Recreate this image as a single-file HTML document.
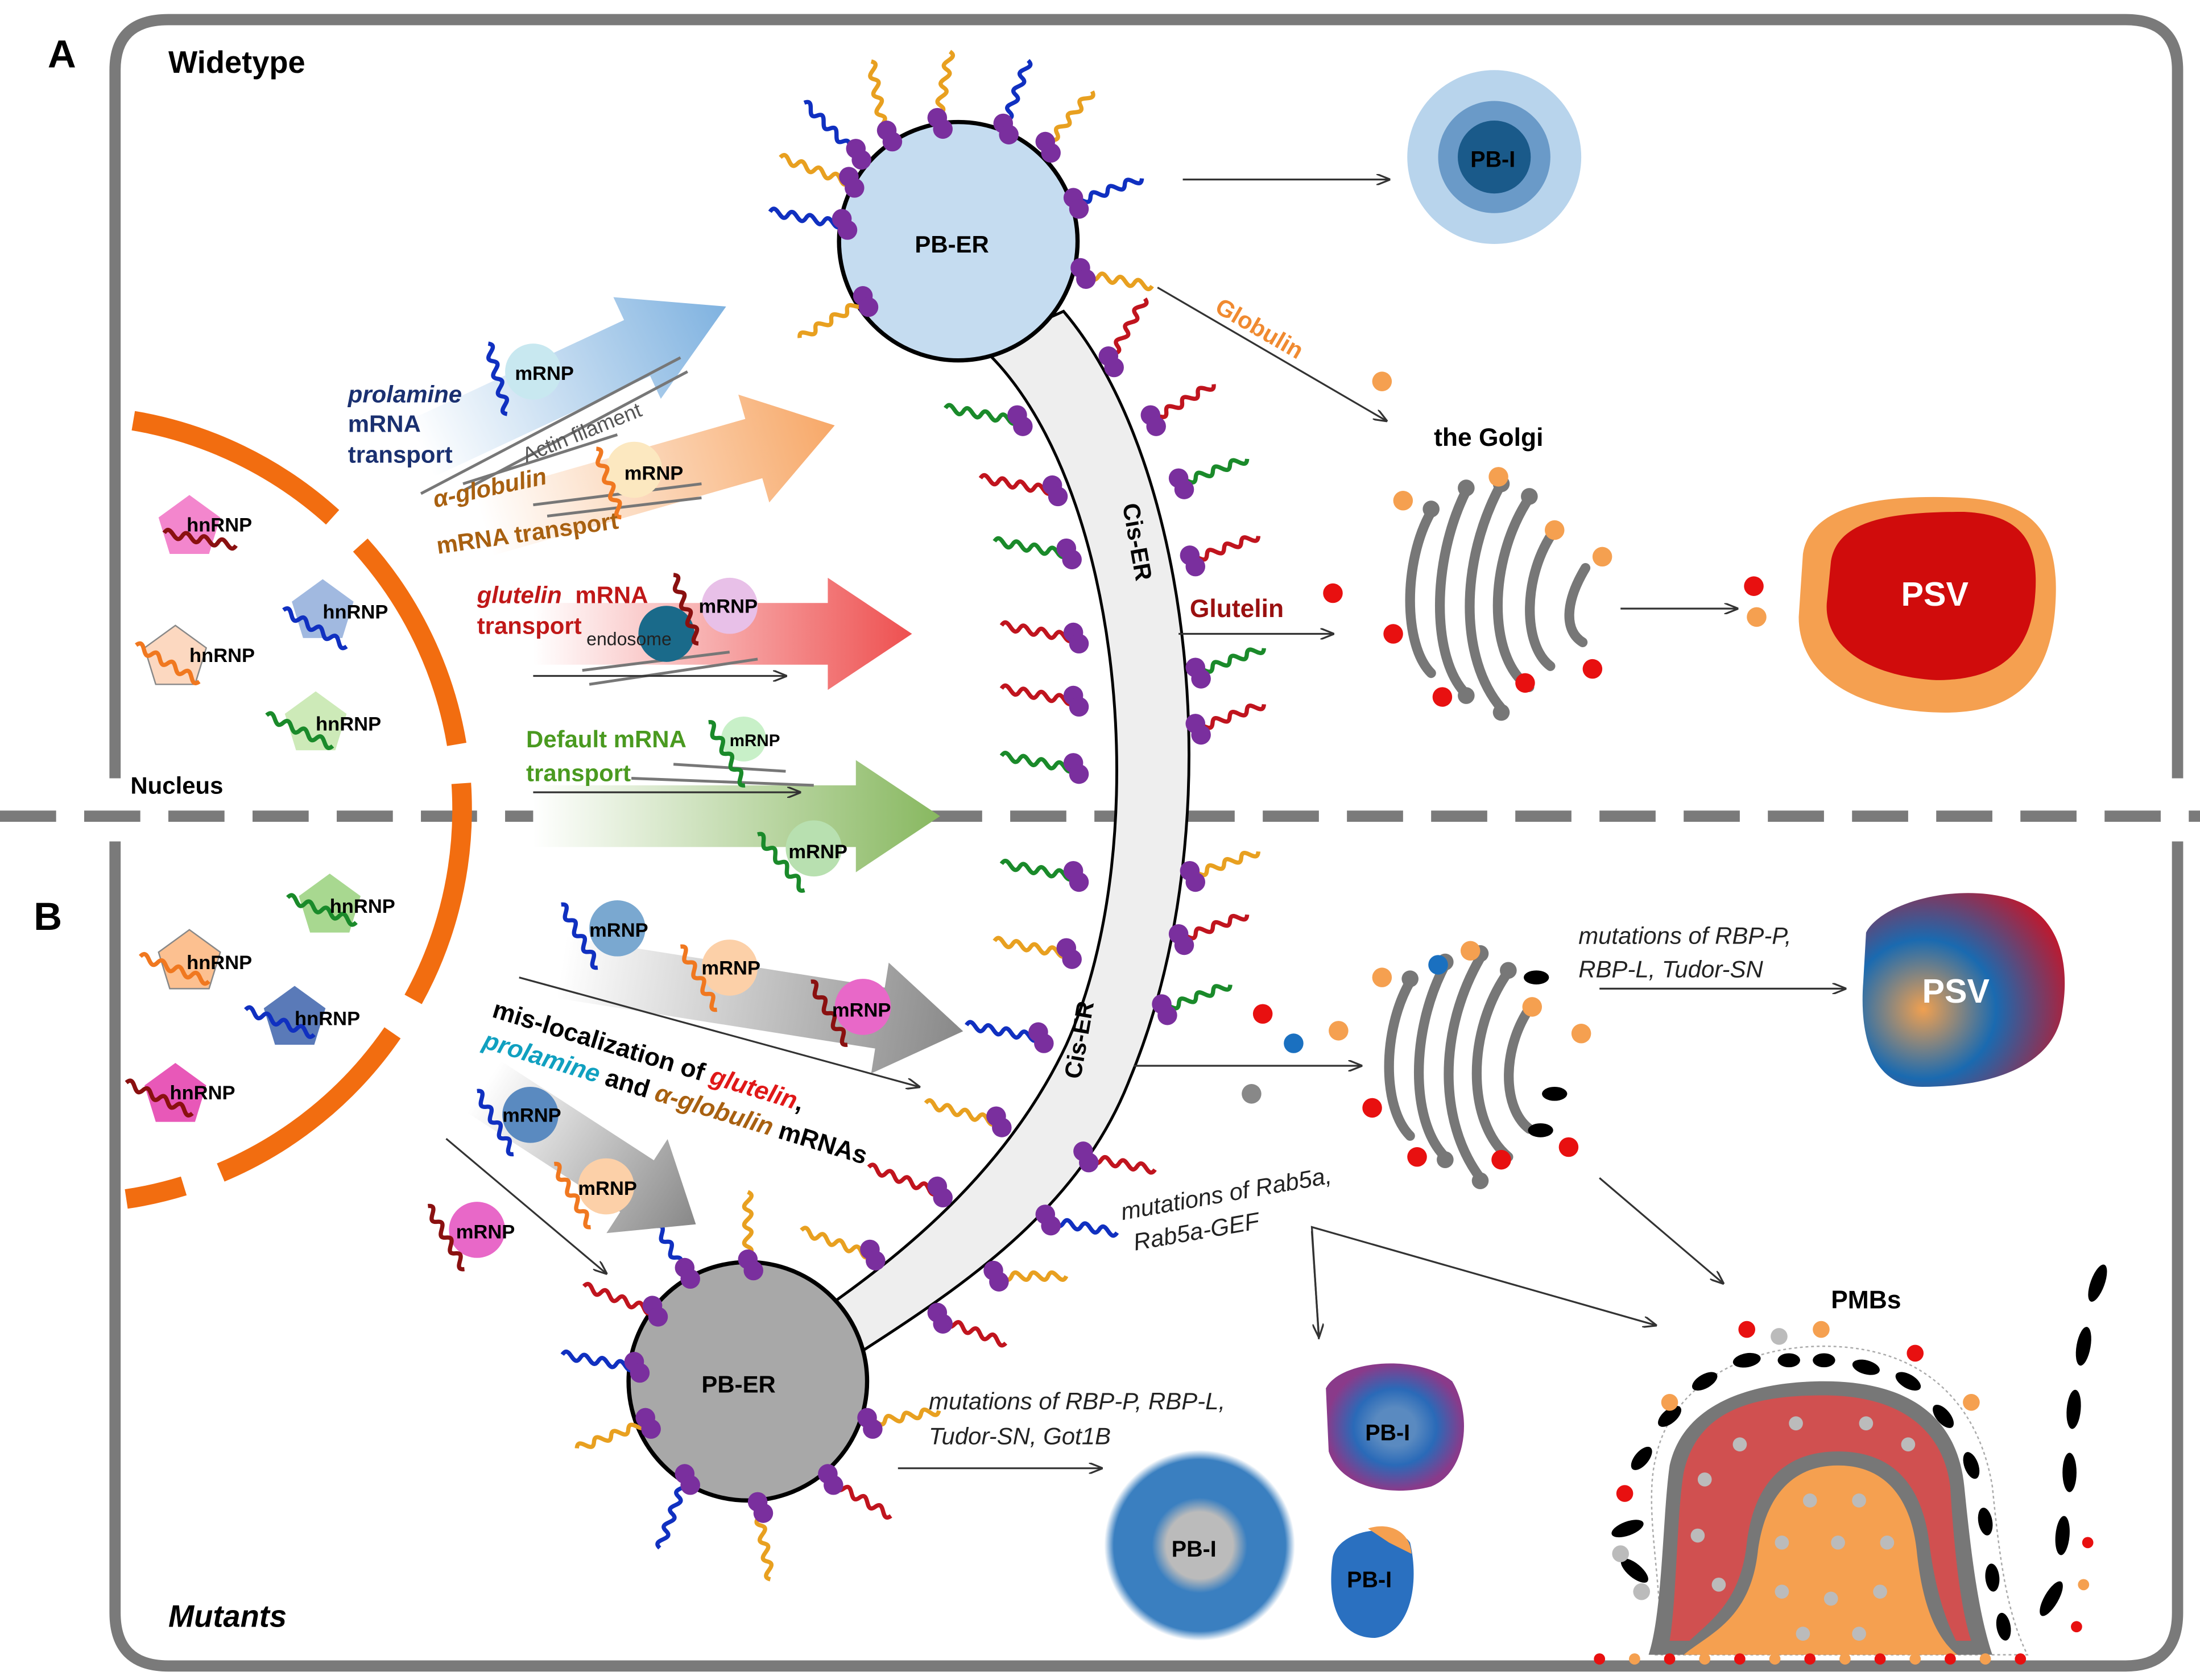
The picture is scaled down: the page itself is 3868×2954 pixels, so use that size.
<!DOCTYPE html>
<html><head><meta charset="utf-8"><style>
html,body{margin:0;padding:0;background:#fff}
svg{display:block}
text{font-family:"Liberation Sans",sans-serif}
</style></head><body>
<svg width="3868" height="2954" viewBox="0 0 1568 1198" preserveAspectRatio="none" xmlns="http://www.w3.org/2000/svg">
<defs>
<path id="sq" d="M0,0 c4,-9 9,9 13,0 s9,9 13,0 s9,9 13,0 s9,9 13,0" fill="none" stroke-width="3"/>
<g id="rb"><circle cx="0" cy="-4" r="7" fill="#7a2f9e"/><circle cx="4" cy="4" r="7" fill="#7a2f9e"/></g>
<linearGradient id="gb" x1="0" y1="0" x2="1" y2="0"><stop offset="0" stop-color="#fff"/><stop offset="1" stop-color="#7fb2e0"/></linearGradient>
<linearGradient id="go" x1="0" y1="0" x2="1" y2="0"><stop offset="0" stop-color="#fff"/><stop offset="1" stop-color="#f7a868"/></linearGradient>
<linearGradient id="gr" x1="0" y1="0" x2="1" y2="0"><stop offset="0" stop-color="#fff"/><stop offset="1" stop-color="#ee5050"/></linearGradient>
<linearGradient id="gg" x1="0" y1="0" x2="1" y2="0"><stop offset="0" stop-color="#fff"/><stop offset="1" stop-color="#88b860"/></linearGradient>
<linearGradient id="gy" x1="0" y1="0" x2="1" y2="0"><stop offset="0" stop-color="#fff"/><stop offset="1" stop-color="#888"/></linearGradient>
<radialGradient id="psv2" cx="0.3" cy="0.6" r="0.8"><stop offset="0" stop-color="#f0a050"/><stop offset="0.45" stop-color="#1a6ab0"/><stop offset="1" stop-color="#d01020"/></radialGradient>
<radialGradient id="pbi1" cx="0.5" cy="0.5" r="0.5"><stop offset="0.35" stop-color="#bbb"/><stop offset="0.5" stop-color="#3a7fc0"/><stop offset="0.9" stop-color="#3a7fc0"/><stop offset="1" stop-color="#fff"/></radialGradient>
<radialGradient id="pbi2" cx="0.5" cy="0.5" r="0.5"><stop offset="0.3" stop-color="#5a8ac0"/><stop offset="0.6" stop-color="#2a6ab8"/><stop offset="1" stop-color="#8a3a8a"/></radialGradient>
<marker id="ah" markerWidth="10" markerHeight="8" refX="9" refY="4" orient="auto" markerUnits="userSpaceOnUse"><path d="M0,0 L10,4 L0,8" fill="none" stroke="#333" stroke-width="1.3"/></marker>
</defs>

<!-- cell outline -->
<path d="M82,555 L82,50 Q82,14 120,14 L1515,14 Q1552,14 1552,50 L1552,555" fill="none" stroke="#7a7a7a" stroke-width="8"/>
<path d="M82,600 L82,1150 Q82,1188 120,1188 L1515,1188 Q1552,1188 1552,1150 L1552,600" fill="none" stroke="#7a7a7a" stroke-width="8"/>
<line x1="0" y1="582" x2="1568" y2="582" stroke="#7a7a7a" stroke-width="8" stroke-dasharray="40,20"/>

<text x="34" y="48" font-size="28" font-weight="bold">A</text>
<text x="24" y="663" font-size="28" font-weight="bold">B</text>
<text x="120" y="52" font-size="22" font-weight="bold">Widetype</text>
<text x="120" y="1160" font-size="22" font-weight="bold" font-style="italic">Mutants</text>
<text x="93" y="566" font-size="17" font-weight="bold">Nucleus</text>

<!-- nucleus arc -->
<path d="M95,300 A281,281 0 0 1 90,855" fill="none" stroke="#f26d10" stroke-width="14" stroke-dasharray="160,28"/>

<!-- hnRNPs -->
<g font-size="14" font-weight="bold">
<g transform="translate(135,375)"><polygon points="0,-22 22,-6 14,20 -14,20 -22,-6" fill="#f068c0" opacity="0.8"/><use href="#sq" stroke="#8a1010" transform="translate(-18,5) rotate(10)"/><text x="-2" y="4">hnRNP</text></g>
<g transform="translate(230,435)"><polygon points="0,-22 22,-6 14,20 -14,20 -22,-6" fill="#8aa8d8" opacity="0.8"/><use href="#sq" stroke="#1030c0" transform="translate(-28,0) rotate(30)"/><text x="0" y="6">hnRNP</text></g>
<g transform="translate(125,468)"><polygon points="0,-22 22,-6 14,20 -14,20 -22,-6" fill="#fcd8c0" stroke="#888"/><use href="#sq" stroke="#f07820" transform="translate(-28,-8) rotate(30)"/><text x="10" y="4">hnRNP</text></g>
<g transform="translate(225,515)"><polygon points="0,-22 22,-6 14,20 -14,20 -22,-6" fill="#c8e8b0" opacity="0.9"/><use href="#sq" stroke="#1a8a2a" transform="translate(-35,-5) rotate(25)"/><text x="0" y="6">hnRNP</text></g>
<g transform="translate(135,685)"><polygon points="0,-22 22,-6 14,20 -14,20 -22,-6" fill="#fcc090" stroke="#888"/><use href="#sq" stroke="#f07820" transform="translate(-35,-3) rotate(20)"/><text x="-2" y="6">hnRNP</text></g>
<g transform="translate(235,645)"><polygon points="0,-22 22,-6 14,20 -14,20 -22,-6" fill="#a8d890"/><use href="#sq" stroke="#1a8a2a" transform="translate(-30,-5) rotate(20)"/><text x="0" y="6">hnRNP</text></g>
<g transform="translate(210,725)"><polygon points="0,-22 22,-6 14,20 -14,20 -22,-6" fill="#5a7ab8"/><use href="#sq" stroke="#1030c0" transform="translate(-35,-5) rotate(20)"/><text x="0" y="6">hnRNP</text></g>
<g transform="translate(125,780)"><polygon points="0,-22 22,-6 14,20 -14,20 -22,-6" fill="#e858b8"/><use href="#sq" stroke="#8a1010" transform="translate(-35,-8) rotate(25)"/><text x="-4" y="4">hnRNP</text></g>
</g>

<!-- transport arrows A -->
<polygon points="0,-22 170,-22 170,-40 240,0 170,40 170,22 0,22" fill="url(#gb)" transform="translate(300,320) rotate(-25)"/>
<polygon points="0,-22 200,-22 200,-40 260,0 200,40 200,22 0,22" fill="url(#go)" transform="translate(345,375) rotate(-16)"/>
<polygon points="0,-22 210,-22 210,-40 270,0 210,40 210,22 0,22" fill="url(#gr)" transform="translate(380,452)"/>
<polygon points="0,-22 230,-22 230,-40 290,0 230,40 230,22 0,22" fill="url(#gg)" transform="translate(380,582)"/>
<g stroke="#777" stroke-width="2">
<line x1="300" y1="352" x2="485" y2="255"/><line x1="330" y1="350" x2="490" y2="265"/><line x1="330" y1="345" x2="440" y2="310"/>
<line x1="380" y1="360" x2="500" y2="345"/><line x1="390" y1="368" x2="500" y2="355"/>
<line x1="420" y1="488" x2="540" y2="470"/><line x1="415" y1="478" x2="520" y2="465"/>
<line x1="450" y1="555" x2="580" y2="560"/><line x1="480" y1="545" x2="560" y2="550"/>
</g>
<line x1="380" y1="482" x2="560" y2="482" stroke="#333" stroke-width="1.3" marker-end="url(#ah)"/>
<line x1="380" y1="565" x2="570" y2="565" stroke="#333" stroke-width="1.3" marker-end="url(#ah)"/>
<text x="375" y="330" font-size="15" fill="#555" transform="rotate(-22 375 330)">Actin filament</text>

<g font-size="14" font-weight="bold">
<circle cx="380" cy="265" r="20" fill="#c8e8f0"/><use href="#sq" stroke="#1030c0" transform="translate(348,245) rotate(75)"/><text x="367" y="271">mRNP</text>
<circle cx="452" cy="335" r="20" fill="#fce8c0"/><use href="#sq" stroke="#f07820" transform="translate(425,320) rotate(70)"/><text x="445" y="342">mRNP</text>
<circle cx="475" cy="452" r="20" fill="#1a6a8a"/><text x="418" y="460" font-size="13" font-weight="normal" fill="#222">endosome</text>
<circle cx="520" cy="432" r="20" fill="#e8c0e8"/><use href="#sq" stroke="#8a1010" transform="translate(480,410) rotate(70)"/><text x="498" y="437">mRNP</text>
<circle cx="530" cy="527" r="16" fill="#c8f0c8"/><use href="#sq" stroke="#1a8a2a" transform="translate(505,515) rotate(60)"/><text x="520" y="532" font-size="12">mRNP</text>
<circle cx="580" cy="605" r="20" fill="#b8e0b0"/><use href="#sq" stroke="#1a8a2a" transform="translate(540,595) rotate(50)"/><text x="562" y="612">mRNP</text>
</g>
<g font-size="17" font-weight="bold">
<text x="248" y="287" fill="#1a3070" font-style="italic">prolamine</text>
<text x="248" y="308" fill="#1a3070">mRNA</text>
<text x="248" y="330" fill="#1a3070">transport</text>
<text x="310" y="362" fill="#a86010" font-style="italic" transform="rotate(-12 310 362)">α-globulin</text>
<text x="312" y="395" fill="#a86010" transform="rotate(-8 312 395)">mRNA transport</text>
<text x="340" y="430" fill="#c01818" font-style="italic">glutelin</text><text x="410" y="430" fill="#c01818">mRNA</text>
<text x="340" y="452" fill="#c01818">transport</text>
<text x="375" y="533" fill="#4a9a20">Default mRNA</text>
<text x="375" y="557" fill="#4a9a20">transport</text>
</g>

<!-- Cis-ER band -->
<path d="M700,248 C800,340 825,600 760,745 C720,830 650,890 585,935 L612,965 C690,915 770,860 805,770 C880,590 850,330 758,222 Z" fill="#eeeeee" stroke="#000" stroke-width="2"/>
<text x="800" y="360" font-size="17" font-weight="bold" transform="rotate(80 800 360)">Cis-ER</text>
<text x="770" y="770" font-size="17" font-weight="bold" transform="rotate(-80 770 770)">Cis-ER</text>

<circle cx="683" cy="172" r="85" fill="#c5dcf0" stroke="#000" stroke-width="3"/>
<text x="652" y="180" font-size="17" font-weight="bold">PB-ER</text>
<circle cx="533" cy="985" r="85" fill="#a8a8a8" stroke="#000" stroke-width="3"/>
<text x="500" y="993" font-size="17" font-weight="bold">PB-ER</text>

<g>
<g transform="translate(610,110) rotate(-135)"><use href="#sq" stroke="#1030c0"/></g><use href="#rb" x="610" y="110"/>
<g transform="translate(630,95) rotate(-100)"><use href="#sq" stroke="#e8a020"/></g><use href="#rb" x="632" y="97"/>
<g transform="translate(668,88) rotate(-80)"><use href="#sq" stroke="#e8a020"/></g><use href="#rb" x="668" y="88"/>
<g transform="translate(715,92) rotate(-70)"><use href="#sq" stroke="#1030c0"/></g><use href="#rb" x="715" y="92"/>
<g transform="translate(745,105) rotate(-50)"><use href="#sq" stroke="#e8a020"/></g><use href="#rb" x="745" y="105"/>
<g transform="translate(765,145) rotate(-20)"><use href="#sq" stroke="#1030c0"/></g><use href="#rb" x="765" y="145"/>
<g transform="translate(770,195) rotate(10)"><use href="#sq" stroke="#e8a020"/></g><use href="#rb" x="770" y="195"/>
<g transform="translate(600,160) rotate(190)"><use href="#sq" stroke="#1030c0"/></g><use href="#rb" x="600" y="160"/>
<g transform="translate(605,130) rotate(200)"><use href="#sq" stroke="#e8a020"/></g><use href="#rb" x="605" y="130"/>
<g transform="translate(615,215) rotate(150)"><use href="#sq" stroke="#e8a020"/></g><use href="#rb" x="615" y="215"/>
</g>
<g>
<g transform="translate(725,300) rotate(190)"><use href="#sq" stroke="#1a8a2a"/></g><use href="#rb" x="725" y="300"/>
<g transform="translate(750,350) rotate(190)"><use href="#sq" stroke="#c0141e"/></g><use href="#rb" x="750" y="350"/>
<g transform="translate(760,395) rotate(190)"><use href="#sq" stroke="#1a8a2a"/></g><use href="#rb" x="760" y="395"/>
<g transform="translate(765,455) rotate(190)"><use href="#sq" stroke="#c0141e"/></g><use href="#rb" x="765" y="455"/>
<g transform="translate(765,500) rotate(190)"><use href="#sq" stroke="#c0141e"/></g><use href="#rb" x="765" y="500"/>
<g transform="translate(765,548) rotate(190)"><use href="#sq" stroke="#1a8a2a"/></g><use href="#rb" x="765" y="548"/>
<g transform="translate(765,625) rotate(190)"><use href="#sq" stroke="#1a8a2a"/></g><use href="#rb" x="765" y="625"/>
<g transform="translate(760,680) rotate(190)"><use href="#sq" stroke="#e8a020"/></g><use href="#rb" x="760" y="680"/>
<g transform="translate(740,740) rotate(190)"><use href="#sq" stroke="#1030c0"/></g><use href="#rb" x="740" y="740"/>
<g transform="translate(710,800) rotate(195)"><use href="#sq" stroke="#e8a020"/></g><use href="#rb" x="710" y="800"/>
<g transform="translate(668,850) rotate(200)"><use href="#sq" stroke="#c0141e"/></g><use href="#rb" x="668" y="850"/>
<g transform="translate(620,895) rotate(200)"><use href="#sq" stroke="#e8a020"/></g><use href="#rb" x="620" y="895"/>
<g transform="translate(790,258) rotate(-60)"><use href="#sq" stroke="#c0141e"/></g><use href="#rb" x="790" y="258"/>
</g>
<g>
<g transform="translate(820,300) rotate(-30)"><use href="#sq" stroke="#c0141e"/></g><use href="#rb" x="820" y="300"/>
<g transform="translate(840,345) rotate(-20)"><use href="#sq" stroke="#1a8a2a"/></g><use href="#rb" x="840" y="345"/>
<g transform="translate(848,400) rotate(-20)"><use href="#sq" stroke="#c0141e"/></g><use href="#rb" x="848" y="400"/>
<g transform="translate(852,480) rotate(-20)"><use href="#sq" stroke="#1a8a2a"/></g><use href="#rb" x="852" y="480"/>
<g transform="translate(852,520) rotate(-20)"><use href="#sq" stroke="#c0141e"/></g><use href="#rb" x="852" y="520"/>
<g transform="translate(848,625) rotate(-20)"><use href="#sq" stroke="#e8a020"/></g><use href="#rb" x="848" y="625"/>
<g transform="translate(840,670) rotate(-20)"><use href="#sq" stroke="#c0141e"/></g><use href="#rb" x="840" y="670"/>
<g transform="translate(828,720) rotate(-20)"><use href="#sq" stroke="#1a8a2a"/></g><use href="#rb" x="828" y="720"/>
<g transform="translate(772,825) rotate(10)"><use href="#sq" stroke="#c0141e"/></g><use href="#rb" x="772" y="825"/>
<g transform="translate(745,870) rotate(10)"><use href="#sq" stroke="#1030c0"/></g><use href="#rb" x="745" y="870"/>
<g transform="translate(708,910) rotate(0)"><use href="#sq" stroke="#e8a020"/></g><use href="#rb" x="708" y="910"/>
<g transform="translate(668,940) rotate(20)"><use href="#sq" stroke="#c0141e"/></g><use href="#rb" x="668" y="940"/>
</g>
<g>
<g transform="translate(488,908) rotate(-120)"><use href="#sq" stroke="#1030c0"/></g><use href="#rb" x="488" y="908"/>
<g transform="translate(533,902) rotate(-90)"><use href="#sq" stroke="#e8a020"/></g><use href="#rb" x="533" y="902"/>
<g transform="translate(465,935) rotate(200)"><use href="#sq" stroke="#c0141e"/></g><use href="#rb" x="465" y="935"/>
<g transform="translate(452,975) rotate(190)"><use href="#sq" stroke="#1030c0"/></g><use href="#rb" x="452" y="975"/>
<g transform="translate(460,1015) rotate(160)"><use href="#sq" stroke="#e8a020"/></g><use href="#rb" x="460" y="1015"/>
<g transform="translate(488,1055) rotate(110)"><use href="#sq" stroke="#1030c0"/></g><use href="#rb" x="488" y="1055"/>
<g transform="translate(540,1075) rotate(80)"><use href="#sq" stroke="#e8a020"/></g><use href="#rb" x="540" y="1075"/>
<g transform="translate(590,1055) rotate(30)"><use href="#sq" stroke="#c0141e"/></g><use href="#rb" x="590" y="1055"/>
<g transform="translate(618,1015) rotate(-10)"><use href="#sq" stroke="#e8a020"/></g><use href="#rb" x="618" y="1015"/>
</g>

<line x1="843" y1="128" x2="990" y2="128" stroke="#333" stroke-width="1.3" marker-end="url(#ah)"/>
<circle cx="1065" cy="112" r="62" fill="#b8d4ec"/><circle cx="1065" cy="112" r="40" fill="#6a9ac8"/><circle cx="1065" cy="112" r="26" fill="#1a5a8a"/>
<text x="1048" y="119" font-size="16" font-weight="bold">PB-I</text>
<line x1="825" y1="205" x2="988" y2="300" stroke="#333" stroke-width="1.3" marker-end="url(#ah)"/>
<text x="865" y="222" font-size="17" font-weight="bold" fill="#f08a30" transform="rotate(30 865 222)">Globulin</text>
<circle cx="985" cy="272" r="7" fill="#f5a050"/>
<text x="1022" y="318" font-size="18" font-weight="bold">the Golgi</text>
<line x1="840" y1="452" x2="950" y2="452" stroke="#333" stroke-width="1.3" marker-end="url(#ah)"/>
<text x="848" y="440" font-size="18" font-weight="bold" fill="#9a1010">Glutelin</text>
<circle cx="950" cy="423" r="7" fill="#e81010"/>
<g fill="none" stroke="#777" stroke-width="7" stroke-linecap="round">
<path d="M1020,365 C1000,400 1000,460 1020,480"/>
<path d="M1045,350 C1020,400 1020,470 1045,495"/>
<path d="M1070,345 C1040,400 1040,470 1070,505"/>
<path d="M1090,355 C1060,400 1060,470 1090,490"/>
<path d="M1108,378 C1085,410 1085,460 1105,475"/>
<path d="M1130,405 C1115,430 1115,450 1128,458"/>
</g>
<g fill="#777"><circle cx="1020" cy="363" r="6"/><circle cx="1045" cy="348" r="6"/><circle cx="1070" cy="345" r="6"/><circle cx="1090" cy="354" r="6"/><circle cx="1045" cy="496" r="6"/><circle cx="1070" cy="508" r="6"/></g>
<g fill="#f5a050"><circle cx="1000" cy="357" r="7"/><circle cx="1068" cy="340" r="7"/><circle cx="1108" cy="378" r="7"/><circle cx="1142" cy="397" r="7"/></g>
<g fill="#e81010"><circle cx="993" cy="452" r="7"/><circle cx="1028" cy="497" r="7"/><circle cx="1087" cy="487" r="7"/><circle cx="1135" cy="477" r="7"/></g>
<line x1="1155" y1="434" x2="1238" y2="434" stroke="#333" stroke-width="1.3" marker-end="url(#ah)"/>
<circle cx="1250" cy="418" r="7" fill="#e81010"/><circle cx="1252" cy="440" r="7" fill="#f5a050"/>
<path d="M1285,395 C1290,360 1340,352 1400,355 C1450,358 1468,380 1465,430 C1462,490 1430,510 1380,508 C1320,506 1282,480 1282,440 Z" fill="#f5a050"/>
<path d="M1305,400 C1310,370 1350,365 1400,365 C1440,367 1455,385 1450,430 C1445,470 1420,485 1380,485 C1330,482 1300,460 1302,430 Z" fill="#d00c0c"/>
<text x="1355" y="432" font-size="24" font-weight="bold" fill="#fff">PSV</text>

<polygon points="0,-22 230,-22 230,-40 290,0 230,40 230,22 0,22" fill="url(#gy)" transform="translate(400,690) rotate(9)"/>
<polygon points="0,-22 130,-22 130,-40 180,0 130,40 130,22 0,22" fill="url(#gy)" transform="translate(345,775) rotate(33)"/>
<line x1="370" y1="697" x2="655" y2="775" stroke="#333" stroke-width="1.3" marker-end="url(#ah)"/>
<line x1="318" y1="812" x2="432" y2="908" stroke="#333" stroke-width="1.3" marker-end="url(#ah)"/>
<g font-size="14" font-weight="bold">
<circle cx="440" cy="662" r="20" fill="#7aa8d0"/><use href="#sq" stroke="#1030c0" transform="translate(400,645) rotate(60)"/><text x="420" y="668">mRNP</text>
<circle cx="520" cy="690" r="20" fill="#fcd0a8"/><use href="#sq" stroke="#f07820" transform="translate(485,675) rotate(60)"/><text x="500" y="695">mRNP</text>
<circle cx="615" cy="718" r="20" fill="#e868c8"/><use href="#sq" stroke="#8a1010" transform="translate(578,700) rotate(60)"/><text x="593" y="725">mRNP</text>
<circle cx="378" cy="795" r="20" fill="#5a8ac0"/><use href="#sq" stroke="#1030c0" transform="translate(340,778) rotate(60)"/><text x="358" y="800">mRNP</text>
<circle cx="432" cy="846" r="20" fill="#fcd0a8"/><use href="#sq" stroke="#f07820" transform="translate(395,830) rotate(60)"/><text x="412" y="852">mRNP</text>
<circle cx="340" cy="877" r="20" fill="#e868c8"/><use href="#sq" stroke="#8a1010" transform="translate(305,860) rotate(60)"/><text x="325" y="883">mRNP</text>
</g>
<g font-size="18" font-weight="bold" transform="rotate(17 350 725)">
<text x="350" y="725">mis-localization of <tspan fill="#e01818" font-style="italic">glutelin</tspan>,</text>
<text x="350" y="748"><tspan fill="#10a0c0" font-style="italic">prolamine</tspan> and <tspan fill="#a86010" font-style="italic">α-globulin</tspan> mRNAs</text>
</g>

<line x1="808" y1="760" x2="970" y2="760" stroke="#333" stroke-width="1.3" marker-end="url(#ah)"/>
<circle cx="900" cy="723" r="7" fill="#e81010"/><circle cx="922" cy="744" r="7" fill="#1a70c0"/><circle cx="954" cy="735" r="7" fill="#f5a050"/><circle cx="892" cy="780" r="7" fill="#888"/>
<g fill="none" stroke="#777" stroke-width="7" stroke-linecap="round">
<path d="M1005,700 C985,735 985,790 1005,810"/>
<path d="M1030,688 C1005,735 1005,800 1030,825"/>
<path d="M1055,683 C1025,735 1025,800 1055,840"/>
<path d="M1075,693 C1045,735 1045,800 1075,825"/>
<path d="M1093,715 C1070,745 1070,790 1090,805"/>
</g>
<g fill="#777"><circle cx="1005" cy="698" r="6"/><circle cx="1030" cy="686" r="6"/><circle cx="1055" cy="680" r="6"/><circle cx="1075" cy="692" r="6"/><circle cx="1030" cy="827" r="6"/><circle cx="1055" cy="842" r="6"/></g>
<g fill="#f5a050"><circle cx="985" cy="697" r="7"/><circle cx="1048" cy="678" r="7"/><circle cx="1092" cy="718" r="7"/><circle cx="1127" cy="737" r="7"/></g>
<circle cx="1025" cy="688" r="7" fill="#1a70c0"/>
<g fill="#000"><ellipse cx="1095" cy="697" rx="9" ry="5"/><ellipse cx="1108" cy="780" rx="9" ry="5"/><ellipse cx="1098" cy="806" rx="9" ry="5"/></g>
<g fill="#e81010"><circle cx="978" cy="790" r="7"/><circle cx="1010" cy="825" r="7"/><circle cx="1070" cy="827" r="7"/><circle cx="1118" cy="818" r="7"/></g>
<line x1="1140" y1="705" x2="1315" y2="705" stroke="#333" stroke-width="1.3" marker-end="url(#ah)"/>
<g font-size="17" font-style="italic" fill="#222"><text x="1125" y="673">mutations of RBP-P,</text><text x="1125" y="697">RBP-L, Tudor-SN</text></g>
<path d="M1330,665 C1340,645 1390,630 1430,640 C1470,650 1475,690 1470,720 C1465,760 1420,775 1370,775 C1335,775 1325,740 1328,700 Z" fill="url(#psv2)"/>
<text x="1370" y="715" font-size="24" font-weight="bold" fill="#fff">PSV</text>
<g font-size="17" font-style="italic" fill="#222" transform="rotate(-10 800 870)"><text x="800" y="870">mutations of Rab5a,</text><text x="805" y="893">Rab5a-GEF</text></g>
<polyline points="940,955 935,875 1180,945" fill="none" stroke="#333" stroke-width="1.3" marker-end="url(#ah)"/>
<line x1="935" y1="878" x2="940" y2="953" stroke="#333" stroke-width="1.3" marker-end="url(#ah)"/>
<line x1="1140" y1="840" x2="1228" y2="915" stroke="#333" stroke-width="1.3" marker-end="url(#ah)"/>
<line x1="640" y1="1047" x2="785" y2="1047" stroke="#333" stroke-width="1.3" marker-end="url(#ah)"/>
<g font-size="17" font-style="italic" fill="#222"><text x="662" y="1005">mutations of RBP-P, RBP-L,</text><text x="662" y="1030">Tudor-SN, Got1B</text></g>
<circle cx="855" cy="1102" r="68" fill="url(#pbi1)"/>
<text x="835" y="1110" font-size="16" font-weight="bold">PB-I</text>
<path d="M945,990 C955,970 1010,965 1035,985 C1050,1010 1045,1050 1020,1060 C990,1068 955,1060 947,1035 Z" fill="url(#pbi2)"/>
<text x="973" y="1027" font-size="16" font-weight="bold">PB-I</text>
<path d="M950,1110 C955,1090 995,1085 1005,1100 C1012,1130 1005,1165 980,1168 C955,1168 945,1145 950,1110 Z" fill="#2a70c0"/>
<path d="M975,1090 C990,1085 1005,1092 1006,1108 L990,1100 Z" fill="#f5a050"/>
<text x="960" y="1132" font-size="16" font-weight="bold">PB-I</text>

<text x="1305" y="933" font-size="18" font-weight="bold">PMBs</text>
<path d="M1180,1180 C1190,1150 1170,1080 1180,1040 C1190,990 1240,960 1300,960 C1370,960 1410,1000 1420,1060 C1425,1110 1430,1150 1445,1180 Z" fill="none" stroke="#aaa" stroke-width="1" stroke-dasharray="2,2"/>
<path d="M1175,1180 C1185,1150 1185,1080 1190,1045 C1200,1000 1250,985 1300,985 C1360,985 1395,1010 1400,1060 C1405,1110 1410,1150 1420,1180 Z" fill="#777"/>
<path d="M1190,1170 C1195,1140 1195,1080 1200,1050 C1210,1005 1250,995 1300,995 C1355,995 1385,1020 1390,1060 C1393,1110 1398,1150 1405,1170 Z" fill="#d05050"/>
<path d="M1195,1180 C1210,1160 1240,1150 1245,1100 C1250,1060 1270,1035 1310,1035 C1350,1035 1370,1060 1375,1100 C1380,1140 1390,1165 1400,1180 Z" fill="#777"/>
<path d="M1200,1180 C1218,1165 1248,1155 1253,1105 C1258,1070 1275,1045 1310,1045 C1345,1045 1362,1070 1366,1105 C1370,1145 1380,1168 1395,1180 Z" fill="#f5a050"/>
<g fill="#bbb"><circle cx="1215" cy="1055" r="5"/><circle cx="1240" cy="1030" r="5"/><circle cx="1280" cy="1015" r="5"/><circle cx="1330" cy="1015" r="5"/><circle cx="1360" cy="1030" r="5"/><circle cx="1210" cy="1095" r="5"/><circle cx="1225" cy="1130" r="5"/><circle cx="1290" cy="1070" r="5"/><circle cx="1325" cy="1070" r="5"/><circle cx="1270" cy="1100" r="5"/><circle cx="1310" cy="1100" r="5"/><circle cx="1345" cy="1100" r="5"/><circle cx="1270" cy="1135" r="5"/><circle cx="1305" cy="1140" r="5"/><circle cx="1340" cy="1135" r="5"/><circle cx="1285" cy="1165" r="5"/><circle cx="1325" cy="1165" r="5"/></g>
<g fill="#000">
<ellipse cx="1160" cy="1090" rx="12" ry="5" transform="rotate(-20 1160 1090)"/><ellipse cx="1165" cy="1120" rx="12" ry="5" transform="rotate(40 1165 1120)"/><ellipse cx="1170" cy="1040" rx="10" ry="5" transform="rotate(-50 1170 1040)"/>
<ellipse cx="1190" cy="1010" rx="10" ry="5" transform="rotate(-40 1190 1010)"/><ellipse cx="1215" cy="985" rx="10" ry="5" transform="rotate(-30 1215 985)"/><ellipse cx="1245" cy="970" rx="10" ry="5" transform="rotate(-10 1245 970)"/>
<ellipse cx="1275" cy="970" rx="8" ry="5"/><ellipse cx="1300" cy="970" rx="8" ry="5"/><ellipse cx="1330" cy="975" rx="10" ry="5" transform="rotate(15 1330 975)"/><ellipse cx="1360" cy="985" rx="10" ry="5" transform="rotate(30 1360 985)"/>
<ellipse cx="1385" cy="1010" rx="10" ry="5" transform="rotate(50 1385 1010)"/><ellipse cx="1405" cy="1045" rx="10" ry="5" transform="rotate(70 1405 1045)"/><ellipse cx="1415" cy="1085" rx="10" ry="5" transform="rotate(80 1415 1085)"/><ellipse cx="1420" cy="1125" rx="10" ry="5" transform="rotate(85 1420 1125)"/><ellipse cx="1428" cy="1160" rx="10" ry="5" transform="rotate(80 1428 1160)"/>
<ellipse cx="1495" cy="915" rx="14" ry="5" transform="rotate(-70 1495 915)"/><ellipse cx="1485" cy="960" rx="14" ry="5" transform="rotate(-80 1485 960)"/><ellipse cx="1478" cy="1005" rx="14" ry="5" transform="rotate(-85 1478 1005)"/><ellipse cx="1475" cy="1050" rx="14" ry="5" transform="rotate(-90 1475 1050)"/><ellipse cx="1470" cy="1095" rx="14" ry="5" transform="rotate(-85 1470 1095)"/><ellipse cx="1462" cy="1140" rx="14" ry="5" transform="rotate(-60 1462 1140)"/>
</g>
<g fill="#e81010"><circle cx="1245" cy="948" r="6"/><circle cx="1365" cy="965" r="6"/><circle cx="1158" cy="1065" r="6"/><circle cx="1140" cy="1183" r="4"/><circle cx="1190" cy="1183" r="4"/><circle cx="1240" cy="1183" r="4"/><circle cx="1290" cy="1183" r="4"/><circle cx="1340" cy="1183" r="4"/><circle cx="1390" cy="1183" r="4"/><circle cx="1440" cy="1183" r="4"/><circle cx="1488" cy="1100" r="4"/><circle cx="1480" cy="1160" r="4"/></g>
<g fill="#f5a050"><circle cx="1298" cy="948" r="6"/><circle cx="1405" cy="1000" r="6"/><circle cx="1190" cy="1000" r="6"/><circle cx="1165" cy="1183" r="4"/><circle cx="1215" cy="1183" r="4"/><circle cx="1265" cy="1183" r="4"/><circle cx="1315" cy="1183" r="4"/><circle cx="1365" cy="1183" r="4"/><circle cx="1415" cy="1183" r="4"/><circle cx="1485" cy="1130" r="4"/></g>
<g fill="#bbb"><circle cx="1268" cy="953" r="6"/><circle cx="1155" cy="1108" r="6"/><circle cx="1170" cy="1135" r="6"/></g>
</svg>
</body></html>
